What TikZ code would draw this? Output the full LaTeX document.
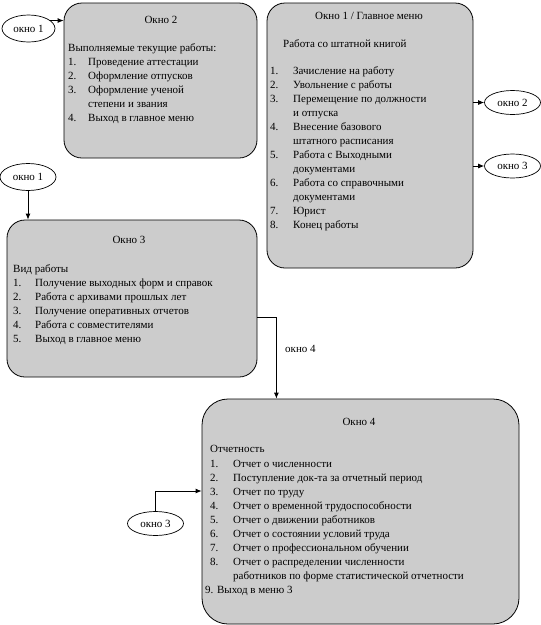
\documentclass[tikz,border=0pt]{standalone}
\usepackage{fontspec}
\setmainfont{Liberation Serif}
\usetikzlibrary{shapes.geometric,arrows.meta}
\newcommand\winfont{\fontsize{11}{14}\selectfont}

\begin{document}
\begin{tikzpicture}[x=1pt,y=-1pt,
  every node/.style={font=\winfont,inner sep=0pt},
  window/.style={draw,line width=0.8pt,fill=gray!40,rounded corners=18pt},
  oval/.style={draw,ellipse,line width=0.7pt,fill=white,minimum width=56pt,minimum height=24pt},
  arr/.style={-{Latex[length=6pt,width=5pt]},line width=0.8pt}]
\useasboundingbox (0,0) rectangle (541,625);
% Window boxes
\node[window,minimum width=193pt,minimum height=155pt] (ok2) at (160.5,80.5) {};
\node[window,minimum width=206pt,minimum height=265pt] (ok1) at (370,135.5) {};
\node[window,minimum width=250pt,minimum height=157pt] (ok3) at (132,298.5) {};
\node[window,minimum width=317pt,minimum height=225pt,rounded corners=26pt] (ok4) at (360.5,511.5) {};
% Window 2 text
\node[anchor=base] (t2) at (161,23) {Окно 2};
\node[anchor=base west] (l2) at (68,51) {\begin{tabular}[t]{@{}p{20pt}@{}l@{}}
\multicolumn{2}{@{}l@{}}{Выполняемые текущие работы:}\\
1. & Проведение аттестации\\
2. & Оформление отпусков\\
3. & Оформление ученой\\
   & степени и звания\\
4. & Выход в главное меню
\end{tabular}};
% Window 1 text
\node[anchor=base] (t1) at (369,19) {Окно 1 / Главное меню};
\node[anchor=base west] (s1) at (283,47) {Работа со штатной книгой};
\node[anchor=base west] (l1) at (270,74) {\begin{tabular}[t]{@{}p{23pt}@{}l@{}}
1. & Зачисление на работу\\
2. & Увольнение с работы\\
3. & Перемещение по должности\\
   & и отпуска\\
4. & Внесение базового\\
   & штатного расписания\\
5. & Работа с Выходными\\
   & документами\\
6. & Работа со справочными\\
   & документами\\
7. & Юрист\\
8. & Конец работы
\end{tabular}};
% Window 3 text
\node[anchor=base] (t3) at (129,243) {Окно 3};
\node[anchor=base west] (l3) at (13,272) {\begin{tabular}[t]{@{}p{22pt}@{}l@{}}
\multicolumn{2}{@{}l@{}}{Вид работы}\\
1. & Получение выходных форм и справок\\
2. & Работа с архивами прошлых лет\\
3. & Получение оперативных отчетов\\
4. & Работа с совместителями\\
5. & Выход в главное меню
\end{tabular}};
% Window 4 text
\node[anchor=base] (t4) at (359,425) {Окно 4};
\node[anchor=base west] (l4) at (210,452) {\begin{tabular}[t]{@{}p{23pt}@{}l@{}}
\multicolumn{2}{@{}l@{}}{Отчетность}\\[1pt]
1. & Отчет о численности\\
2. & Поступление док-та за отчетный период\\
3. & Отчет по труду\\
4. & Отчет о временной трудоспособности\\
5. & Отчет о движении работников\\
6. & Отчет о состоянии условий труда\\
7. & Отчет о профессиональном обучении\\
8. & Отчет о распределении численности\\
   & работников по форме статистической отчетности\\
\multicolumn{2}{@{}l@{}}{\hspace*{-5pt}9. Выход в меню 3}
\end{tabular}};
% Jump ovals
\node[oval,minimum width=53pt,minimum height=27pt] (e1a) at (28.5,28.5) {окно 1};
\node[oval] (e2) at (512.5,102.5) {окно 2};
\node[oval] (e3a) at (512.5,166) {окно 3};
\node[oval,minimum height=27pt] (e1b) at (28,177) {окно 1};
\node[oval] (e3b) at (155.5,523.5) {окно 3};
% Connectors
\coordinate (out3) at ([yshift=-18.5pt]ok3.east);
\coordinate (bend) at ([xshift=19pt]out3);
\coordinate (in4) at ([yshift=20.5pt]ok4.west);
\draw[arr] (e1a.20) -- (e1a.20 -| ok2.west);
\draw[arr] (ok1.east |- e2.west) -- (e2.west);
\draw[arr] (ok1.east |- e3a.west) -- (e3a.west);
\draw[arr] (e1b.south) -- (e1b.south |- ok3.north);
\draw[arr] (out3) -- (bend) -- (bend |- ok4.north);
\draw[arr] (e3b.north) |- (in4);
\node[anchor=base west] (lbl4) at (285,352) {окно 4};
\end{tikzpicture}
\end{document}
